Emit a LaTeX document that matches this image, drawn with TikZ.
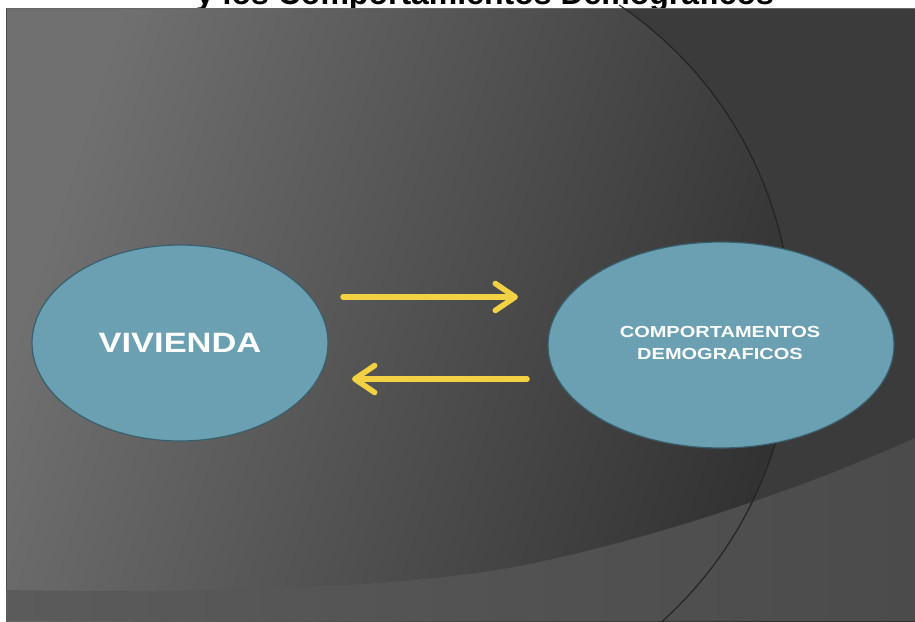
\documentclass[tikz,border=0pt]{standalone}
\usepackage{fontspec}
\setmainfont{Liberation Sans}
\usetikzlibrary{arrows.meta,fadings,shapes.geometric}
\definecolor{ellfill}{HTML}{6BA0B2}
\definecolor{ellline}{HTML}{3A5F6C}
\definecolor{arrowyellow}{HTML}{F2D243}
\definecolor{slideTL}{HTML}{707070}
\definecolor{slideM}{HTML}{434343}
\definecolor{slideBR}{HTML}{2B2B2B}
\definecolor{outerR}{HTML}{3B3B3B}
\definecolor{stripL}{HTML}{5B5B5B}
\definecolor{stripR}{HTML}{4B4B4B}
\definecolor{arcline}{HTML}{242424}
\tikzset{
  bubble/.style={ellipse, fill=ellfill, draw=ellline, line width=1.2pt, inner sep=0pt, text=white},
  arr/.style={draw=arrowyellow, line width=5.5pt, line cap=round,
    -{Straight Barb[length=20pt,width=27pt,round]}}
}
\begin{document}
\begin{tikzpicture}[x=1pt,y=1pt]
\useasboundingbox (0,0) rectangle (915,-621);
\clip (0,0) rectangle (915,-621);
\fill[white] (0,0) rectangle (915,-621);
% title (cut off by slide top)
\node[anchor=base, inner sep=0pt, font=\bfseries\fontsize{32}{36}\selectfont] (title) at (485,-5) {y los Comportamientos Demograficos};
% slide background
\shade[top color=slideTL, middle color=slideM, bottom color=slideBR, shading angle=72] (6,-8) rectangle (915,-621);
% region outside the big circle on the right
\begin{scope}
  \clip (560,-8) rectangle (915,-621);
  \fill[outerR, even odd rule] (0,-8) rectangle (915,-621) (400,-330) circle (392);
\end{scope}
\draw[black!70, line width=0.8pt] (6.4,-8) -- (6.4,-621);
\draw[black!60, line width=0.8pt] (6,-8.4) -- (915,-8.4);
% lighter bottom band
\shade[left color=stripL, right color=stripR]
  (6,-590) .. controls (250,-594) and (420,-585) .. (520,-566)
  .. controls (650,-540) and (800,-490) .. (915,-438) -- (915,-621) -- (6,-621) -- cycle;
% thin arc line
\draw[arcline, line width=1.2pt] (400,-330) ++(56:392) arc[start angle=56, end angle=-50, radius=392];
% bubbles
\node[bubble, minimum width=296pt, minimum height=196pt] (viv) at (180,-343)
  {\bfseries\fontsize{28}{32}\selectfont\scalebox{1.23}[1]{VIVIENDA}};
\node[bubble, minimum width=346pt, minimum height=206pt] (comp) at (721,-345) {};
\node[align=center, text=white, inner sep=0pt, font=\bfseries\fontsize{16}{22}\selectfont] (complabel) at (720,-343)
  {\scalebox{1.25}[1]{COMPORTAMENTOS}\\\scalebox{1.25}[1]{DEMOGRAFICOS}};
% arrows
\coordinate (r1) at (343,-297);
\coordinate (r2) at (518,-297);
\coordinate (l1) at (527,-379);
\coordinate (l2) at (352,-379);
\draw[arr] (r1) -- (r2);
\draw[arr] (l1) -- (l2);
\end{tikzpicture}
\end{document}
